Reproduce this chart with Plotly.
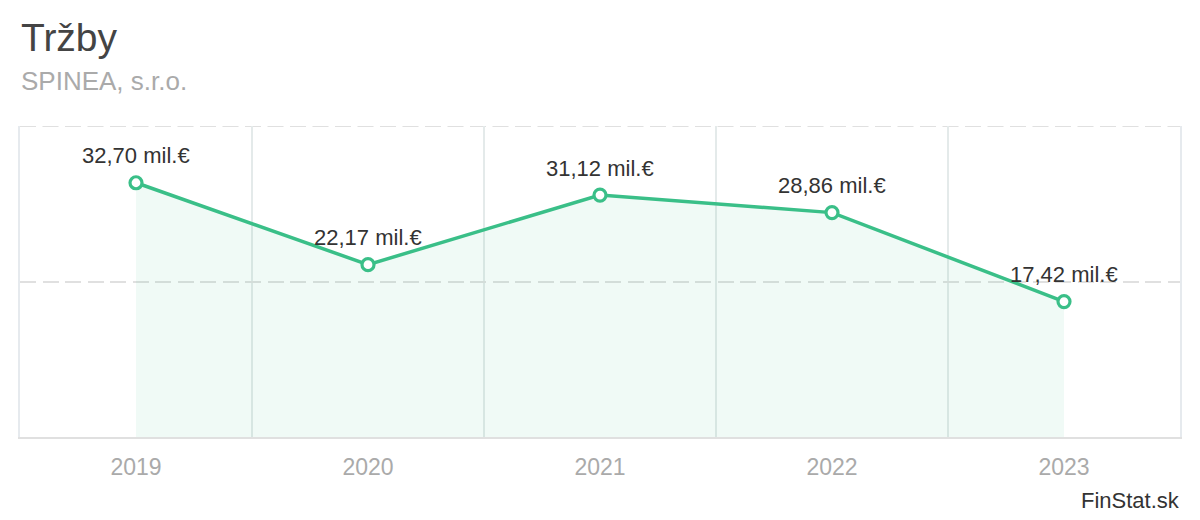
import plotly.graph_objects as go

years = ["2019", "2020", "2021", "2022", "2023"]
values = [32.70, 22.17, 31.12, 28.86, 17.42]
labels = [f"{v:.2f}".replace(".", ",") + " mil.€" for v in values]
y_max = 40
y_grid = [20, 40]

FONT = "Liberation Sans, Arial, sans-serif"
GREEN = "#3abf88"
DASH = "16px,6.5px"

# page has an 8px body margin; figure is sized so it fills the 1200x520 window
OFF = 8
W, H = 1200 - OFF, 520 - OFF
L, R, T, B = 20 - OFF, 20, 126 - OFF, 83

fig = go.Figure()
fig.add_trace(go.Scatter(
    x=years, y=values, mode="lines+markers",
    line=dict(color=GREEN, width=3.5),
    marker=dict(size=12, color="white", line=dict(color=GREEN, width=3.2)),
    fill="tozeroy", fillcolor="rgba(58,191,136,0.08)",
    cliponaxis=False, hoverinfo="skip",
))

# value labels (category axis: annotation x is the category index)
for i, (v, lab) in enumerate(zip(values, labels)):
    fig.add_annotation(x=i, y=v, xref="x", yref="y", text=lab,
                       showarrow=False, yanchor="middle", yshift=27,
                       font=dict(size=22, color="#333333", family=FONT))

# top grid line (Plotly hides grid lines lying on the plot edge)
fig.add_shape(type="line", xref="paper", x0=0, x1=1, yref="y",
              y0=y_grid[-1], y1=y_grid[-1], layer="below",
              line=dict(color="#e0e0e0", width=2, dash=DASH))

fig.update_layout(
    width=W, height=H,
    paper_bgcolor="white", plot_bgcolor="white",
    margin=dict(l=L, r=R, t=T, b=B),
    showlegend=False,
    font=dict(family=FONT),
    xaxis=dict(
        type="category", tickson="boundaries", showgrid=True,
        gridcolor="#e4eaea", gridwidth=1.5,
        showline=True, linecolor="#e0e0e0", linewidth=2,
        ticks="", tickfont=dict(size=23, color="#aaaaaa"),
        ticklabelstandoff=8,
        range=[-0.5, 4.5], fixedrange=True,
    ),
    yaxis=dict(
        range=[0, y_max], tickvals=y_grid, showticklabels=False,
        showgrid=True, gridcolor="#e0e0e0", gridwidth=2, griddash=DASH,
        zeroline=False, showline=True, mirror=True,
        linecolor="#e6eaee", linewidth=1.5, fixedrange=True,
    ),
)

pw = W - L - R
ph = H - T - B


def px2paper(px, py):
    return (px - OFF - L) / pw, (H - B - (py - OFF)) / ph


for text, px, py, size, color, anchor in [
    ("Tržby", 20, 38, 39, "#444444", "left"),
    ("SPINEA, s.r.o.", 20, 81, 26, "#aaaaaa", "left"),
    ("FinStat.sk", 1181, 500, 22, "#333333", "right"),
]:
    x, y = px2paper(px, py)
    fig.add_annotation(text=text, x=x, y=y, xref="paper", yref="paper",
                       xanchor=anchor, yanchor="middle", showarrow=False,
                       borderpad=0,
                       font=dict(size=size, color=color, family=FONT))

fig.write_html("out.html")
